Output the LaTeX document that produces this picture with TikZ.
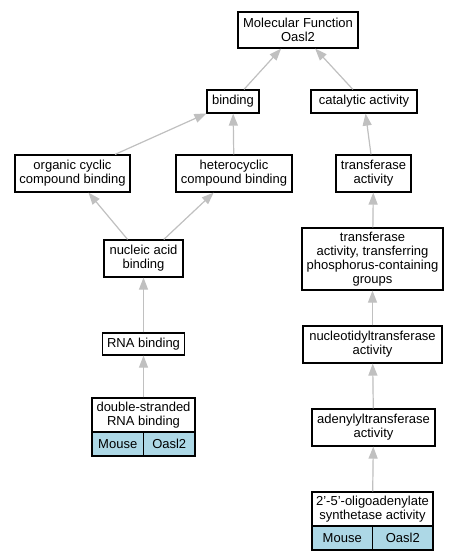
\documentclass[tikz,border=0pt]{standalone}
\usepackage{fontspec}
\setmainfont{Liberation Sans}
\usetikzlibrary{arrows.meta}
\definecolor{edgegray}{HTML}{C0C0C0}
\definecolor{cellblue}{HTML}{ADD8E6}
\begin{document}
\begin{tikzpicture}[x=1pt,y=-1pt,
  box/.style={draw=black, line width=1.2pt, fill=white, inner sep=0pt, align=center, font=\fontsize{13}{14}\selectfont},
  cell/.style={box, fill=cellblue},
  edge/.style={draw=edgegray, line width=1.2pt, -{Triangle[length=12pt,width=9pt]}, fill=edgegray}
]
\useasboundingbox (0,0) rectangle (457,560);
% rank 0
\node[box, minimum width=120pt, minimum height=36pt] (mf) at (298,30) {Molecular Function\\Oasl2};
% rank 1
\node[box, minimum width=52pt, minimum height=23pt] (binding) at (233,101.5) {binding};
\node[box, minimum width=106pt, minimum height=23pt] (catalytic) at (364,101.5) {catalytic activity};
% rank 2
\node[box, minimum width=115pt, minimum height=37pt] (organic) at (72.5,173.5) {organic cyclic\\compound binding};
\node[box, minimum width=116pt, minimum height=37pt] (hetero) at (234,173.5) {heterocyclic\\compound binding};
\node[box, minimum width=75pt, minimum height=37pt] (transferase) at (373.5,173.5) {transferase\\activity};
% rank 3
\node[box, minimum width=79pt, minimum height=37pt] (nucleic) at (143.5,258.5) {nucleic acid\\binding};
\node[box, minimum width=141pt, minimum height=62pt] (phospho) at (372.5,259) {transferase\\activity, transferring\\phosphorus-containing\\groups};
% rank 4
\node[box, minimum width=82pt, minimum height=22pt] (rna) at (143.5,344) {RNA binding};
\node[box, minimum width=139pt, minimum height=37pt] (nucleotidyl) at (372.5,344.5) {nucleotidyltransferase\\activity};
% rank 5
\node[box, minimum width=103pt, minimum height=34pt] (dsrna) at (143.5,415) {double-stranded\\RNA binding};
\node[cell, minimum width=51.5pt, minimum height=24pt] (dsmouse) at (117.75,444) {Mouse};
\node[cell, minimum width=51.5pt, minimum height=24pt] (dsgene) at (169.25,444) {Oasl2};
\node[box, minimum width=123pt, minimum height=37pt] (adenylyl) at (373.5,427.5) {adenylyltransferase\\activity};
% rank 6
\node[box, minimum width=121pt, minimum height=34pt] (oas) at (372.5,509) {2'-5'-oligoadenylate\\synthetase activity};
\node[cell, minimum width=60.5pt, minimum height=24pt] (oasmouse) at (342.25,538) {Mouse};
\node[cell, minimum width=60.5pt, minimum height=24pt] (oasgene) at (402.75,538) {Oasl2};
% edges (child -> parent)
\draw[edge] (binding) -- (mf);
\draw[edge] (catalytic) -- (mf);
\draw[edge] (organic) -- (binding);
\draw[edge] (hetero) -- (binding);
\draw[edge] (transferase) -- (catalytic);
\draw[edge] (nucleic) -- (organic);
\draw[edge] (nucleic) -- (hetero);
\draw[edge] (phospho) -- (transferase);
\draw[edge] (rna) -- (nucleic);
\draw[edge] (nucleotidyl) -- (phospho);
\draw[edge] (dsrna) -- (rna);
\draw[edge] (adenylyl) -- (nucleotidyl);
\draw[edge] (oas) -- (adenylyl);
\end{tikzpicture}
\end{document}
